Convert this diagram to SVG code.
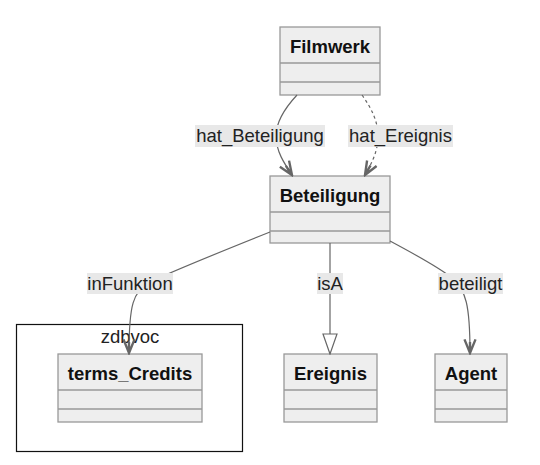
<svg xmlns="http://www.w3.org/2000/svg" width="540" height="465" viewBox="0 0 540 465">
<style>
.box{fill:#eeeeee;stroke:#999999;stroke-width:1.3}
.div{stroke:#999999;stroke-width:1.3}
.title{font-family:"Liberation Sans",Arial,sans-serif;font-size:18.5px;font-weight:bold;fill:#111111;text-anchor:middle}
.lbl{font-family:"Liberation Sans",Arial,sans-serif;font-size:18.5px;fill:#222222;text-anchor:middle}
.lblbg{fill:#e8e8e8}
.edge{fill:none;stroke:#666666;stroke-width:1.2}
.dash{stroke-dasharray:3,3}
.pkg{fill:#ffffff;stroke:#111111;stroke-width:1.2}
</style>
<defs>
<marker id="arr" viewBox="0 0 20 16" refX="18" refY="8" markerWidth="17" markerHeight="14" orient="auto" markerUnits="userSpaceOnUse">
<path d="M2,1.5 L18,8 L2,14.5 M18,8 L5,8" fill="none" stroke="#666666" stroke-width="2.8"/>
</marker>
<marker id="tri" viewBox="0 0 22 16" refX="21" refY="8" markerWidth="22" markerHeight="16" orient="auto" markerUnits="userSpaceOnUse">
<path d="M1,1 L21,8 L1,15 Z" fill="#ffffff" stroke="#666666" stroke-width="1.2"/>
</marker>
</defs>
<g id="zdbvoc">
<rect class="pkg" x="16.5" y="324.5" width="226" height="127"/>
<text class="lbl" x="130" y="343">zdbvoc</text>
</g>
<g id="Filmwerk">
<rect class="box" x="280" y="27" width="100" height="68"/>
<line class="div" x1="280" y1="63" x2="380" y2="63"/>
<line class="div" x1="280" y1="82" x2="380" y2="82"/>
<text class="title" x="330" y="53">Filmwerk</text>
</g>
<g id="Beteiligung">
<rect class="box" x="270" y="176" width="120" height="67"/>
<line class="div" x1="270" y1="212" x2="390" y2="212"/>
<line class="div" x1="270" y1="231" x2="390" y2="231"/>
<text class="title" x="330" y="202">Beteiligung</text>
</g>
<g id="terms_Credits">
<rect class="box" x="58" y="354" width="144" height="68"/>
<line class="div" x1="58" y1="390" x2="202" y2="390"/>
<line class="div" x1="58" y1="409" x2="202" y2="409"/>
<text class="title" x="130" y="380">terms_Credits</text>
</g>
<g id="Ereignis">
<rect class="box" x="284" y="354" width="93" height="68"/>
<line class="div" x1="284" y1="390" x2="377" y2="390"/>
<line class="div" x1="284" y1="409" x2="377" y2="409"/>
<text class="title" x="330.5" y="380">Ereignis</text>
</g>
<g id="Agent">
<rect class="box" x="435" y="354" width="72" height="68"/>
<line class="div" x1="435" y1="390" x2="507" y2="390"/>
<line class="div" x1="435" y1="409" x2="507" y2="409"/>
<text class="title" x="471" y="380">Agent</text>
</g>
<g id="connectors">
<path class="edge" d="M297,95 C284,109 276,122 276,136 C276,151 284,163 292,175" marker-end="url(#arr)"/>
<path class="edge dash" d="M362,95 C372,109 378,122 378,136 C378,151 372,163 365,175" marker-end="url(#arr)"/>
<path class="edge" d="M270,232 C220,252 175,270 150,282 C133,291 129,305 129,353" marker-end="url(#arr)"/>
<path class="edge" d="M330,243 L330,354" marker-end="url(#tri)"/>
<path class="edge" d="M390,241 C420,257 440,268 452,278 C466,290 470,305 470,353" marker-end="url(#arr)"/>
<rect class="lblbg" x="195" y="125" width="130" height="22"/>
<text class="lbl" x="260" y="142">hat_Beteiligung</text>
<rect class="lblbg" x="348" y="125" width="105" height="22"/>
<text class="lbl" x="400.5" y="142">hat_Ereignis</text>
<rect class="lblbg" x="87" y="273" width="86" height="21"/>
<text class="lbl" x="130" y="290">inFunktion</text>
<rect class="lblbg" x="317" y="273" width="26" height="21"/>
<text class="lbl" x="330" y="290">isA</text>
<rect class="lblbg" x="438" y="273" width="65" height="21"/>
<text class="lbl" x="470.5" y="290">beteiligt</text>
</g>
</svg>
